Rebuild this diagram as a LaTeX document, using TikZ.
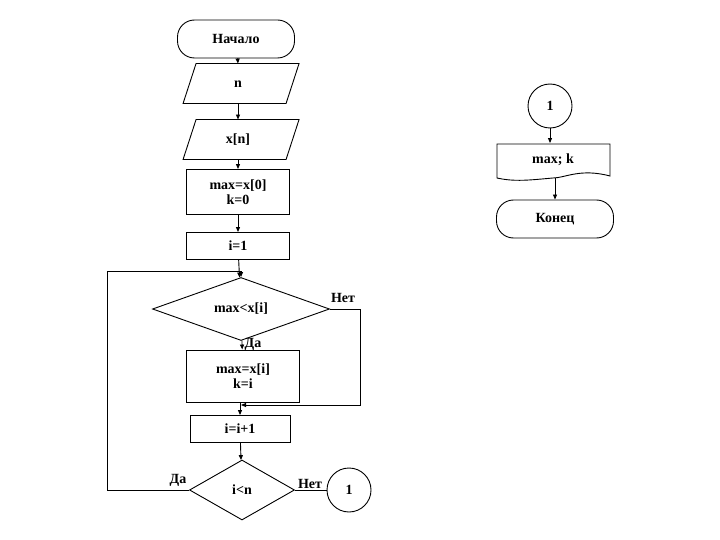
\documentclass[tikz,border=0pt]{standalone}
\usepackage{fontspec}
\setmainfont{Liberation Serif}
\usetikzlibrary{shapes.geometric,arrows.meta}
\begin{document}
\begin{tikzpicture}[x=1pt,y=-1pt,font=\fontsize{14}{15}\selectfont\bfseries,
  line width=0.9pt,
  arr/.style={-{Triangle[length=5pt,width=4pt]}},
  term/.style={draw,rounded corners=17pt,minimum width=117pt,minimum height=38pt},
  proc/.style={draw,minimum width=103pt,align=center},
  io/.style={minimum width=103pt,minimum height=40pt},
  dec/.style={draw,diamond,aspect=2.8,inner sep=1pt},
  conn/.style={draw,circle,minimum size=44pt,inner sep=0pt}]
\useasboundingbox (0,0) rectangle (720,540);
\node[term] (start) at (236,39) {Начало};
\node[io] (n) at (238,84) {n};
\draw (n.north west) ++(10,0) -- ++(103,0) -- ++(-13,40) -- ++(-103,0) -- cycle;
\node[io] (xn) at (238,140) {x[n]};
\draw (xn.north west) ++(10,0) -- ++(103,0) -- ++(-13,40) -- ++(-103,0) -- cycle;
\node[proc,minimum height=45pt] (init) at (238,192) {max=x[0]\\k=0};
\node[proc,minimum height=27pt] (i1) at (238,246) {i=1};
\node[dec,minimum width=177pt,minimum height=63pt] (d1) at (241,309) {max<x[i]};
\node[proc,minimum height=52pt,minimum width=113pt] (upd) at (243,376) {max=x[i]\\k=i};
\node[proc,minimum height=27pt,minimum width=100pt] (inc) at (240,429) {i=i+1};
\node[dec,minimum width=105pt,minimum height=60pt] (d2) at (242,490) {i<n};
\node[conn] (c1) at (349,490) {1};
\node at (310,484) {Нет};
\node at (178,480) {Да};
\node at (253,344) {Да};
\node at (343,298) {Нет};
\coordinate (loopR) at (241,405);
\coordinate (loopT) at (241,271);
\draw[arr] (start) -- (n.north);
\draw[arr] (n.south) -- (xn.north);
\draw[arr] (xn.south) -- (init);
\draw[arr] (init) -- (i1);
\draw[arr] (i1) -- (d1);
\draw[arr] (d1) -- (upd);
\draw[arr] (upd.south -| inc) -- (inc);
\draw[arr] (inc) -- (d2);
\draw (d2) -- (c1);
\draw[arr] (d2.west) -- (107,490) -- (107,271) -- (loopT) -- (d1.north);
\draw[arr] (d1.east) -- (360,309) -- (360,405) -- (loopR);
% right column
\node[conn] (c2) at (550,106) {1};
\node[minimum width=113pt,minimum height=33pt] (out) at (553,160) {max; k};
\draw (497,144) -- (610,144) -- (610,176) .. controls (580,168) and (565,178) .. (553,178) .. controls (530,180) and (515,182) .. (497,178) -- cycle;
\node[term] (end) at (555,219) {Конец};
\draw[arr] (c2) -- (out.north -| c2);
\draw[arr] (out.south -| 555,0) ++(0,1) -- (end);
\end{tikzpicture}
\end{document}
